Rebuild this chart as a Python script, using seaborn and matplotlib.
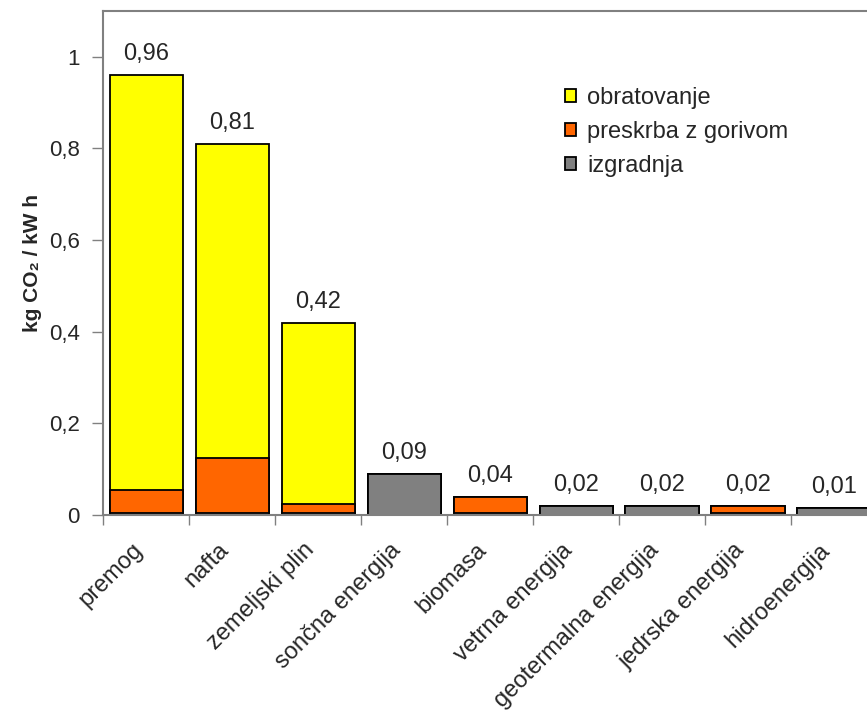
import numpy as np
import pandas as pd
import seaborn as sns
import matplotlib.pyplot as plt
from matplotlib.ticker import FixedLocator, FuncFormatter
from matplotlib.transforms import ScaledTranslation

# Data
categories = ["premog", "nafta", "zemeljski plin", "sončna energija", "biomasa",
              "vetrna energija", "geotermalna energija", "jedrska energija", "hidroenergija"]
izgradnja = [0.004, 0.004, 0.004, 0.09, 0.004, 0.02, 0.02, 0.004, 0.015]
preskrba = [0.050, 0.120, 0.020, 0.0, 0.036, 0.0, 0.0, 0.016, 0.0]
obratovanje = [0.906, 0.686, 0.396, 0.0, 0.0, 0.0, 0.0, 0.0, 0.0]
total_labels = ["0,96", "0,81", "0,42", "0,09", "0,04", "0,02", "0,02", "0,02", "0,01"]

df = pd.DataFrame({"kat": categories, "izgradnja": izgradnja,
                   "preskrba": preskrba, "obratovanje": obratovanje})
df["do_preskrbe"] = df["izgradnja"] + df["preskrba"]
df["skupaj"] = df["do_preskrbe"] + df["obratovanje"]

sns.set_style("white")
plt.rcParams["font.family"] = ["Liberation Sans", "DejaVu Sans"]

fig = plt.figure(figsize=(8.67, 7.15), dpi=100)
ax = fig.add_axes([0.119, 0.2797, 0.8925, 0.7049])

bar_kw = dict(width=0.85, edgecolor="black", linewidth=1.3, saturation=1, order=categories)
# stacked by drawing cumulative totals back to front
sns.barplot(data=df, x="kat", y="skupaj", color="#FFFF00", label="obratovanje", ax=ax, **bar_kw)
sns.barplot(data=df, x="kat", y="do_preskrbe", color="#FF6600", label="preskrba z gorivom", ax=ax, **bar_kw)
sns.barplot(data=df, x="kat", y="izgradnja", color="#808080", label="izgradnja", ax=ax, **bar_kw)

ax.bar_label(ax.containers[0], labels=total_labels, padding=7, fontsize=17)

ax.set_ylim(0, 1.1)
ax.set_xlim(-0.5, 8.5)
ax.set_yticks([0, 0.2, 0.4, 0.6, 0.8, 1.0])
ax.yaxis.set_major_formatter(FuncFormatter(lambda v, p: "0" if v == 0 else ("1" if v == 1 else f"{v:.1f}".replace(".", ","))))
ax.tick_params(axis="y", which="major", left=True, length=8, width=1, color="#808080", labelsize=16, pad=9)

ax.xaxis.set_minor_locator(FixedLocator(np.arange(-0.5, 9, 1.0)))
ax.tick_params(axis="x", which="major", length=0, labelsize=17, pad=23)
ax.tick_params(axis="x", which="minor", bottom=True, length=7, width=1, color="#808080")
shift = ScaledTranslation(-5 / 72, 0, fig.dpi_scale_trans)
for lab in ax.get_xticklabels():
    lab.set_rotation(45)
    lab.set_ha("right")
    lab.set_va("center")
    lab.set_rotation_mode("anchor")
    lab.set_transform(lab.get_transform() + shift)

ax.set_xlabel("")
ax.set_ylabel("kg CO₂ / kW h", fontsize=15, fontweight="bold", labelpad=5)

for s in ["left", "bottom", "top", "right"]:
    ax.spines[s].set_visible(True)
    ax.spines[s].set_color("#808080")
    ax.spines[s].set_linewidth(1.5)

h, l = ax.get_legend_handles_labels()
ax.legend(h, l, loc="upper left", bbox_to_anchor=(0.585, 0.868), frameon=False,
          fontsize=17, handlelength=0.47, handleheight=0.47, handletextpad=0.45,
          labelspacing=0.5, borderaxespad=0)

fig.savefig("out.png", dpi=100)
